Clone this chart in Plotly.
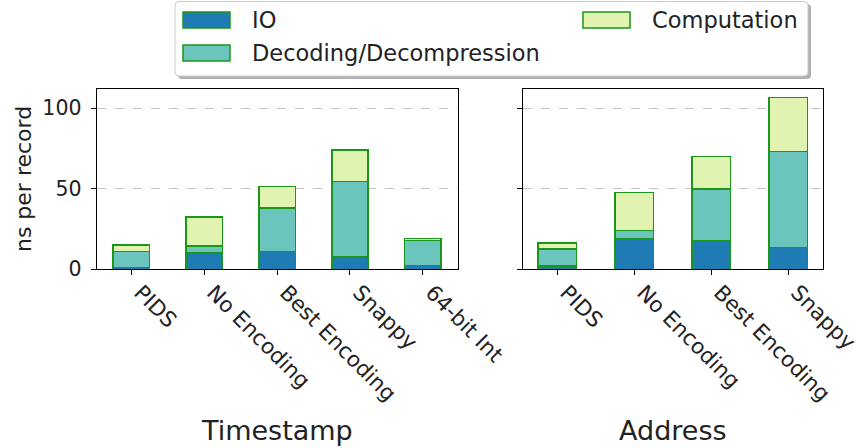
import plotly.graph_objects as go

# ---- data ----
ts_categories = ["PIDS", "No Encoding", "Best Encoding", "Snappy", "64-bit Int"]
ts_io = [1.0, 10.0, 11.0, 7.5, 2.3]
ts_decoding = [10.0, 4.3, 27.0, 47.0, 15.7]
ts_computation = [4.0, 18.0, 13.2, 19.5, 1.2]

addr_categories = ["PIDS", "No Encoding", "Best Encoding", "Snappy"]
addr_io = [1.9, 19.0, 17.6, 13.4]
addr_decoding = [10.7, 5.0, 32.2, 59.7]
addr_computation = [3.7, 23.5, 20.2, 33.5]

series_names = ["IO", "Decoding/Decompression", "Computation"]
series_colors = ["#1f7bb4", "#6cc5bc", "#e0f3b0"]
edge_color = "#1a961a"
y_ticks = [0, 50, 100]

W, H = 862, 448
FONT = "DejaVu Sans"


def px(x):
    return x / W


def py(y):
    return 1 - y / H


fig = go.Figure()

for vals, name, col in zip([ts_io, ts_decoding, ts_computation], series_names, series_colors):
    fig.add_trace(go.Bar(x=ts_categories, y=vals, name=name, marker=dict(color=col, line=dict(color=edge_color, width=1.5)),
                         width=0.5, xaxis="x", yaxis="y", showlegend=False))
for vals, name, col in zip([addr_io, addr_decoding, addr_computation], series_names, series_colors):
    fig.add_trace(go.Bar(x=addr_categories, y=vals, name=name, marker=dict(color=col, line=dict(color=edge_color, width=1.5)),
                         width=0.5, xaxis="x2", yaxis="y2", showlegend=False))

ymax = max(a + b + c for a, b, c in zip(addr_io, addr_decoding, addr_computation))
ymax = max(ymax, max(a + b + c for a, b, c in zip(ts_io, ts_decoding, ts_computation))) * 1.05

ydom = [py(269.3), py(88.8)]
axis_common = dict(showline=True, linecolor="black", linewidth=1.2, mirror=True, ticks="outside",
                   ticklen=5, tickcolor="black", tickwidth=1.2, zeroline=False)
ytickfont = dict(family=FONT, size=20.5, color="#222222")
xtickfont = dict(family=FONT, size=21.5, color="#222222")
xtick_extra = dict(tickangle=45, tickfont=xtickfont, showgrid=False, automargin=False,
                   ticklabelshift=9, ticklabelstandoff=-4)

fig.update_layout(
    width=W, height=H, margin=dict(l=0, r=0, t=0, b=0, autoexpand=False),
    plot_bgcolor="white", paper_bgcolor="white",
    barmode="stack", bargap=0.5, showlegend=False,
    font=dict(family=FONT, color="#222222"),
    xaxis=dict(domain=[px(96.7), px(457.5)], range=[-0.475, len(ts_categories) - 0.525], anchor="y",
               **xtick_extra, **axis_common),
    xaxis2=dict(domain=[px(522.7), px(822.7)], range=[-0.45, len(addr_categories) - 0.55], anchor="y2",
                **xtick_extra, **axis_common),
    yaxis=dict(domain=ydom, range=[0, ymax], tickvals=y_ticks, tickfont=ytickfont, anchor="x", automargin=False,
               ticklabelstandoff=5,
               showgrid=True, gridcolor="#c4c4c4", griddash="dash", gridwidth=1.2, **axis_common),
    yaxis2=dict(domain=ydom, range=[0, ymax], tickvals=y_ticks, showticklabels=False, anchor="x2", automargin=False,
                showgrid=True, gridcolor="#c4c4c4", griddash="dash", gridwidth=1.2, **axis_common),
)

# axis labels
fig.add_annotation(text="ns per record", x=px(23), y=(ydom[0] + ydom[1]) / 2, xref="paper", yref="paper",
                   xanchor="center", yanchor="middle",
                   textangle=-90, showarrow=False, font=dict(family=FONT, size=22, color="#222222"))
fig.add_annotation(text="Timestamp", x=px(277), y=py(430), xref="paper", yref="paper",
                   xanchor="center", yanchor="middle",
                   showarrow=False, font=dict(family=FONT, size=27, color="#222222"))
fig.add_annotation(text="Address", x=px(672.7), y=py(430), xref="paper", yref="paper",
                   xanchor="center", yanchor="middle",
                   showarrow=False, font=dict(family=FONT, size=27, color="#222222"))


# legend (matplotlib-style frame with shadow)
def rrect(x0, y0, x1, y1, r):
    X0, X1 = px(x0), px(x1)
    Y0, Y1 = py(y0), py(y1)
    rx, ry = r / W, r / H
    return (f"M {X0+rx},{Y0} L {X1-rx},{Y0} Q {X1},{Y0} {X1},{Y0-ry} L {X1},{Y1+ry} Q {X1},{Y1} {X1-rx},{Y1} "
            f"L {X0+rx},{Y1} Q {X0},{Y1} {X0},{Y1+ry} L {X0},{Y0-ry} Q {X0},{Y0} {X0+rx},{Y0} Z")


fig.add_shape(type="path", path=rrect(178, 4, 811, 79, 4), xref="paper", yref="paper",
              fillcolor="rgba(100,100,100,0.5)", line=dict(width=0), layer="above")
fig.add_shape(type="path", path=rrect(175, 1.5, 808, 76, 4), xref="paper", yref="paper",
              fillcolor="white", line=dict(color="#cccccc", width=1), layer="above")

legend_pos = [(183, 12, 250), (183, 45, 250), (583, 12, 650)]
for (sx, sy, tx), name, col in zip(legend_pos, series_names, series_colors):
    fig.add_shape(type="rect", x0=px(sx), x1=px(sx + 47), y0=py(sy), y1=py(sy + 16), xref="paper", yref="paper",
                  fillcolor=col, line=dict(color=edge_color, width=1.5), layer="above")
    fig.add_annotation(text=name, x=px(tx), y=py(sy + 8), xref="paper", yref="paper",
                       xanchor="left", yanchor="middle",
                       showarrow=False, font=dict(family=FONT, size=22.5, color="#222222"))

# drop the browser's default 8px body margin so the 862x448 figure fills the window exactly
fig.write_html("out.html", config={"displayModeBar": False},
               post_script="document.body.style.margin='0px';")
